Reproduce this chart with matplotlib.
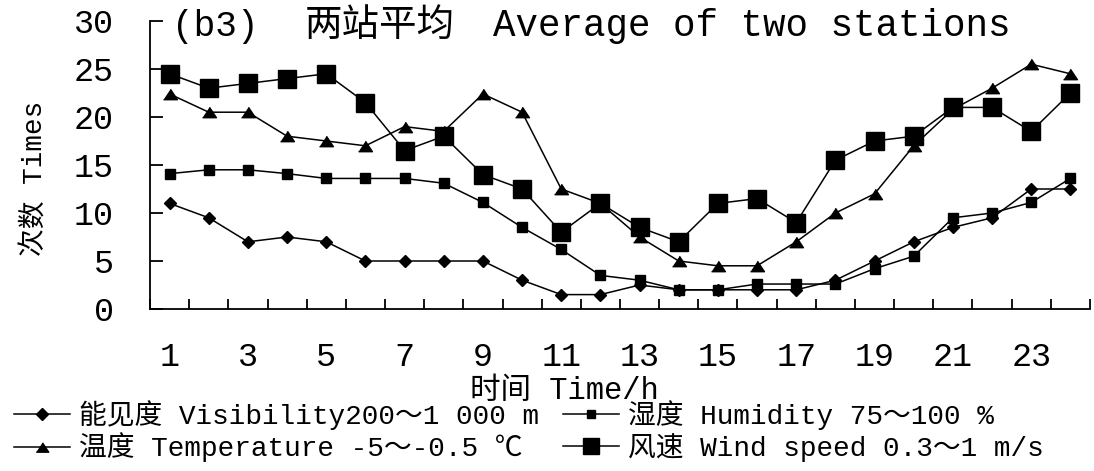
import matplotlib
matplotlib.use("Agg")
import matplotlib.pyplot as plt
import numpy as np

plt.rcParams['font.family'] = ['Liberation Mono', 'Noto Sans CJK SC', 'DejaVu Sans']

hours = list(range(1, 25))
visibility = [11, 9.5, 7, 7.5, 7, 5, 5, 5, 5, 3, 1.5, 1.5, 2.5, 2, 2, 2, 2, 3, 5, 7, 8.5, 9.5, 12.5, 12.5]
humidity = [14.1, 14.5, 14.5, 14.1, 13.6, 13.6, 13.6, 13.1, 11.1, 8.5, 6.2, 3.5, 3.0, 2.0, 2.0, 2.6, 2.6, 2.6, 4.2, 5.5, 9.5, 10, 11.1, 13.6]
temperature = [22.4, 20.5, 20.5, 18, 17.5, 17, 19, 18.5, 22.4, 20.5, 12.5, 11, 7.5, 5, 4.5, 4.5, 7, 10, 12, 17, 20.8, 23, 25.5, 24.5]
wind = [24.5, 23, 23.5, 24, 24.5, 21.5, 16.5, 18, 14, 12.5, 8, 11, 8.5, 7, 11, 11.5, 9, 15.5, 17.5, 18, 21, 21, 18.5, 22.5]

labels = ['能见度 Visibility200～1 000 m', '湿度 Humidity 75～100 %',
          '温度 Temperature -5～-0.5 ℃', '风速 Wind speed 0.3～1 m/s']
xtick_labels = [str(h) for h in range(1, 24, 2)]
title_tag = '(b3)'
title_cn = '两站平均'
title_en = 'Average of two stations'
xlabel = '时间 Time/h'
ylabel = '次数 Times'

W, H = 1094, 471
fig = plt.figure(figsize=(W / 100, H / 100), dpi=100)
ax = fig.add_axes([150 / W, 162 / H, 940 / W, 288 / H])

tri = [(-1, -0.75), (1, -0.75), (0, 0.75)]
lw = 1.1
l_vis, = ax.plot(hours, visibility, color='black', lw=lw, marker='D', ms=6.5, zorder=3)
l_hum, = ax.plot(hours, humidity, color='black', lw=lw, marker='s', ms=6.5, zorder=3)
l_temp, = ax.plot(hours, temperature, color='black', lw=lw, marker=tri, ms=10, zorder=3)
l_wind, = ax.plot(hours, wind, color='black', lw=lw, marker='s', ms=12.5, zorder=4)

ax.set_xlim(0.5, 24.5)
ax.set_ylim(0, 30)
for s in ['top', 'right']:
    ax.spines[s].set_visible(False)
for s in ['left', 'bottom']:
    ax.spines[s].set_linewidth(1.3)

ax.set_yticks(np.arange(0, 31, 5))
ax.tick_params(axis='y', direction='in', length=9.5, width=1.3, labelsize=24, pad=26)
ax.set_xticks(list(range(1, 24, 2)))
ax.set_xticklabels(xtick_labels)
ax.set_xticks(np.arange(0.5, 25, 1), minor=True)
ax.tick_params(axis='x', which='major', length=0, labelsize=24, pad=24)
ax.tick_params(axis='x', which='minor', direction='in', length=7, width=1.3)

ty = 1 - 26 / H
fig.text(172 / W, ty, title_tag, fontsize=26, va='center', ha='left')
fig.text(305 / W, ty, title_cn, fontsize=27, va='center', ha='left')
fig.text(493 / W, ty, title_en, fontsize=27, va='center', ha='left')
fig.text(564 / W, 1 - 391 / H, xlabel, fontsize=22, va='center', ha='center')
fig.text(36 / W, 1 - 178 / H, ylabel, fontsize=20, va='center', ha='center', rotation=90)

leg = fig.legend(handles=[l_vis, l_temp, l_hum, l_wind],
                 labels=[labels[0], labels[2], labels[1], labels[3]],
                 ncol=2, loc='upper left', bbox_to_anchor=(14 / W, 1 - 400 / H),
                 frameon=False, fontsize=20, handlelength=2.0, handletextpad=0.35,
                 columnspacing=0.85, labelspacing=0.1, borderpad=0, borderaxespad=0,
                 markerscale=0.9)

fig.savefig('out.png', dpi=100)
